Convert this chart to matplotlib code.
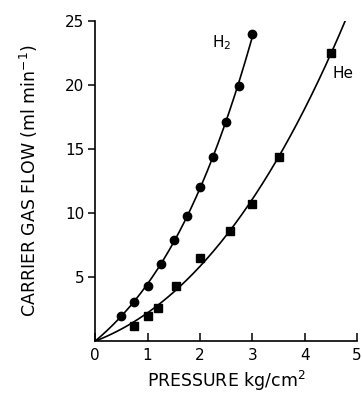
import numpy as np
import matplotlib
matplotlib.use("Agg")
import matplotlib.pyplot as plt

plt.rcParams['font.family'] = ['DejaVu Sans']

h2_pressure = [0.5, 0.75, 1.0, 1.25, 1.5, 1.75, 2.0, 2.25, 2.5, 2.75, 3.0]
h2_flow = [1.95, 3.05, 4.3, 6.0, 7.9, 9.8, 12.0, 14.4, 17.1, 19.9, 24.0]

he_pressure = [0.75, 1.0, 1.2, 1.55, 2.0, 2.57, 3.0, 3.52, 4.5]
he_flow = [1.2, 1.95, 2.6, 4.3, 6.5, 8.6, 10.7, 14.4, 22.5]

x_ticks = [0, 1, 2, 3, 4, 5]
y_ticks = [5, 10, 15, 20, 25]


def fit_through_origin(x, y, deg=3):
    x = np.asarray(x, float)
    y = np.asarray(y, float)
    A = np.vstack([x ** k for k in range(1, deg + 1)]).T
    coef, *_ = np.linalg.lstsq(A, y, rcond=None)
    return lambda t: sum(c * t ** (k + 1) for k, c in enumerate(coef))


fig = plt.figure(figsize=(3.62, 4.09), dpi=100)
ax = fig.add_axes([0.263, 0.166, 0.723, 0.783])

f_h2 = fit_through_origin(h2_pressure, h2_flow)
t = np.linspace(0, h2_pressure[-1], 200)
ax.plot(t, f_h2(t), color='black', lw=1.2)

f_he = fit_through_origin(he_pressure, he_flow)
t2 = np.linspace(0, 5, 300)
ax.plot(t2, f_he(t2), color='black', lw=1.2)

ax.plot(h2_pressure, h2_flow, 'o', color='black', ms=6)
ax.plot(he_pressure, he_flow, 's', color='black', ms=6)

ax.set_xlim(0, 5)
ax.set_ylim(0, 25)
ax.set_xticks(x_ticks)
ax.set_yticks(y_ticks)
ax.spines['top'].set_visible(False)
ax.spines['right'].set_visible(False)
for s in ('left', 'bottom'):
    ax.spines[s].set_linewidth(1.2)
ax.tick_params(axis='x', direction='in', length=6, width=1.1, pad=5, labelsize=11)
ax.tick_params(axis='y', direction='out', length=5, width=1.1, pad=3, labelsize=11)

ax.text(2.24, 23.3, 'H$_2$', fontsize=11, ha='left', va='center')
ax.text(4.53, 20.9, 'He', fontsize=11, ha='left', va='center')

ax.set_xlabel('PRESSURE kg/cm$^2$', fontsize=12.5, labelpad=4)
ax.set_ylabel('CARRIER GAS FLOW (ml min$^{-1}$)', fontsize=12.5, labelpad=18)

fig.savefig('out.png', dpi=100)
